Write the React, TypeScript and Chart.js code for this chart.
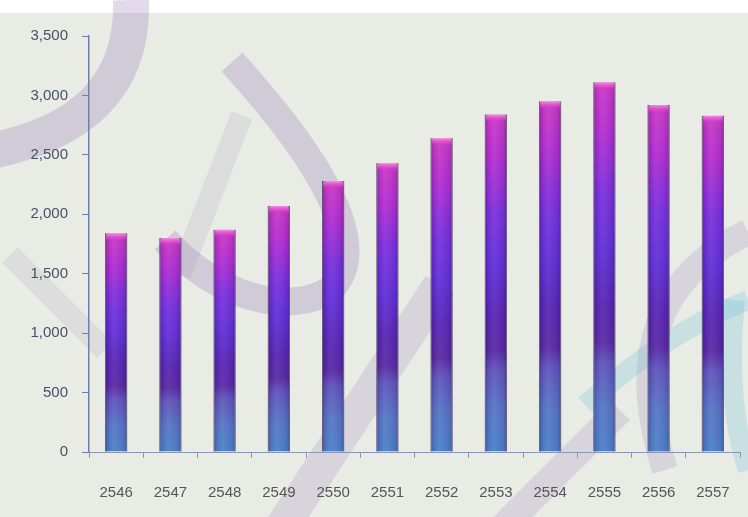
import React, { useEffect, useRef } from "react";
import { Chart, registerables } from "chart.js";

Chart.register(...registerables);

const categories = ["2546", "2547", "2548", "2549", "2550", "2551", "2552", "2553", "2554", "2555", "2556", "2557"];
const values = [1840, 1800, 1870, 2070, 2280, 2430, 2640, 2840, 2950, 3110, 2920, 2830];
const yTicks = [0, 500, 1000, 1500, 2000, 2500, 3000, 3500];

const W = 748;
const H = 517;

const backgroundPlugin = {
  id: "bgPlugin",
  beforeDraw(chart: any) {
    const c = chart.ctx;
    c.save();
    c.fillStyle = "#ffffff";
    c.fillRect(0, 0, W, H);
    c.fillStyle = "#e8ece5";
    c.fillRect(0, 13, W, H - 13);
    c.lineCap = "butt";
    c.lineJoin = "round";
    const purple = "rgba(150,120,180,0.28)";
    const soft = "rgba(150,120,180,0.2)";
    const light = "rgba(150,130,175,0.14)";
    // top-left crescent
    c.strokeStyle = purple;
    c.lineWidth = 36;
    c.beginPath();
    c.moveTo(131, 0);
    c.quadraticCurveTo(135, 125, -15, 152);
    c.stroke();
    // big loop stroke
    c.lineWidth = 28;
    c.beginPath();
    c.moveTo(232, 62);
    c.bezierCurveTo(330, 170, 370, 250, 330, 290);
    c.bezierCurveTo(290, 315, 220, 300, 165, 240);
    c.stroke();
    // inner lighter wedge
    c.strokeStyle = light;
    c.lineWidth = 22;
    c.beginPath();
    c.moveTo(242, 115);
    c.lineTo(180, 275);
    c.stroke();
    // lower-left lighter diagonal
    c.beginPath();
    c.moveTo(10, 255);
    c.lineTo(105, 350);
    c.stroke();
    // long diagonal
    c.strokeStyle = soft;
    c.lineWidth = 34;
    c.beginPath();
    c.moveTo(440, 285);
    c.lineTo(280, 530);
    c.stroke();
    // right S stroke
    c.lineWidth = 26;
    c.beginPath();
    c.moveTo(748, 232);
    c.quadraticCurveTo(610, 300, 665, 470);
    c.stroke();
    // lower-right diagonal
    c.lineWidth = 28;
    c.beginPath();
    c.moveTo(620, 410);
    c.lineTo(500, 530);
    c.stroke();
    // teal stroke
    c.strokeStyle = "rgba(80,180,215,0.2)";
    c.lineWidth = 20;
    c.beginPath();
    c.moveTo(585, 405);
    c.quadraticCurveTo(670, 330, 748, 300);
    c.stroke();
    c.beginPath();
    c.moveTo(735, 300);
    c.quadraticCurveTo(725, 400, 748, 470);
    c.stroke();
    c.restore();
  },
};

const barShadePlugin = {
  id: "barShade",
  afterDatasetsDraw(chart: any) {
    const c = chart.ctx;
    const meta = chart.getDatasetMeta(0);
    c.save();
    meta.data.forEach((bar: any) => {
      const { x, y, base, width } = bar.getProps(["x", "y", "base", "width"], true);
      const left = x - width / 2;
      const h = base - y;
      const g = c.createLinearGradient(left, 0, left + width, 0);
      g.addColorStop(0, "rgba(30,10,60,0.35)");
      g.addColorStop(0.15, "rgba(30,10,60,0.08)");
      g.addColorStop(0.4, "rgba(255,255,255,0.06)");
      g.addColorStop(0.85, "rgba(30,10,60,0.08)");
      g.addColorStop(1, "rgba(30,10,60,0.35)");
      c.fillStyle = g;
      c.fillRect(left, y, width, h);
      const cap = c.createLinearGradient(0, y, 0, y + 8);
      cap.addColorStop(0, "rgba(255,140,230,0.9)");
      cap.addColorStop(0.5, "rgba(230,90,210,0.6)");
      cap.addColorStop(1, "rgba(200,50,200,0)");
      c.fillStyle = cap;
      c.beginPath();
      c.moveTo(left + 1, y + 8);
      c.lineTo(left + 1, y + 2);
      c.quadraticCurveTo(left + 1, y, left + 4, y);
      c.lineTo(left + width - 4, y);
      c.quadraticCurveTo(left + width - 1, y, left + width - 1, y + 2);
      c.lineTo(left + width - 1, y + 8);
      c.closePath();
      c.fill();
    });
    c.restore();
  },
};

function barGradient(ctx: any) {
  const chart = ctx.chart;
  const y = chart.scales && chart.scales.y;
  if (!y || ctx.type !== "data") return "#6a30d0";
  const top = y.getPixelForValue(ctx.raw);
  const bottom = y.getPixelForValue(0);
  if (!isFinite(top) || !isFinite(bottom) || top === bottom) return "#6a30d0";
  const g = chart.ctx.createLinearGradient(0, top, 0, bottom);
  g.addColorStop(0, "#cc38c4");
  g.addColorStop(0.14, "#b22ed2");
  g.addColorStop(0.3, "#7a30de");
  g.addColorStop(0.45, "#6230d8");
  g.addColorStop(0.6, "#5826b4");
  g.addColorStop(0.7, "#5a2aa6");
  g.addColorStop(0.76, "#6054bc");
  g.addColorStop(0.88, "#5676c6");
  g.addColorStop(1, "#4a80c8");
  return g;
}

export default function App() {
  const ref = useRef<HTMLCanvasElement | null>(null);
  useEffect(() => {
    if (!ref.current) return;
    const chart = new Chart(ref.current, {
      type: "bar",
      data: {
        labels: categories,
        datasets: [
          {
            data: values,
            backgroundColor: barGradient,
            borderColor: "rgba(70,50,100,0.55)",
            borderWidth: 1,
            borderSkipped: "bottom",
            categoryPercentage: 1,
            barPercentage: 0.41,
          },
        ],
      },
      options: {
        responsive: false,
        animation: false,
        devicePixelRatio: 1,
        layout: { padding: { top: 36, right: 8, left: 0, bottom: 0 } },
        plugins: { legend: { display: false }, tooltip: { enabled: false } },
        scales: {
          x: {
            offset: true,
            grid: {
              offset: true,
              drawOnChartArea: false,
              drawTicks: true,
              tickLength: 6,
              color: "#8a96b4",
            },
            border: { display: true, color: "#8a96b4", width: 1 },
            ticks: {
              color: "#555558",
              font: { family: "'Liberation Sans', Arial, sans-serif", size: 15 },
              padding: 26,
              maxRotation: 0,
              autoSkip: false,
            },
            afterFit: (s: any) => {
              s.height = H - 452;
              s.paddingLeft = 0;
              s.paddingRight = 0;
            },
          },
          y: {
            min: 0,
            max: 3500,
            afterBuildTicks: (s: any) => {
              s.ticks = yTicks.map((v) => ({ value: v }));
            },
            grid: {
              drawOnChartArea: false,
              drawTicks: true,
              tickLength: 7,
              color: "#7080ac",
            },
            border: { display: true, color: "#7080ac", width: 1.5 },
            ticks: {
              color: "#4a4e66",
              font: { family: "'Liberation Sans', Arial, sans-serif", size: 15 },
              padding: 14,
              callback: (v: any) => Number(v).toLocaleString("en-US"),
            },
            afterFit: (s: any) => {
              s.width = 89;
              s.paddingTop = 0;
              s.paddingBottom = 0;
            },
          },
        },
      },
      plugins: [backgroundPlugin, barShadePlugin],
    });
    return () => chart.destroy();
  }, []);
  return (
    <div style={{ position: "fixed", left: 0, top: 0, width: W, height: H }}>
      <canvas ref={ref} width={W} height={H} style={{ display: "block" }} />
    </div>
  );
}
